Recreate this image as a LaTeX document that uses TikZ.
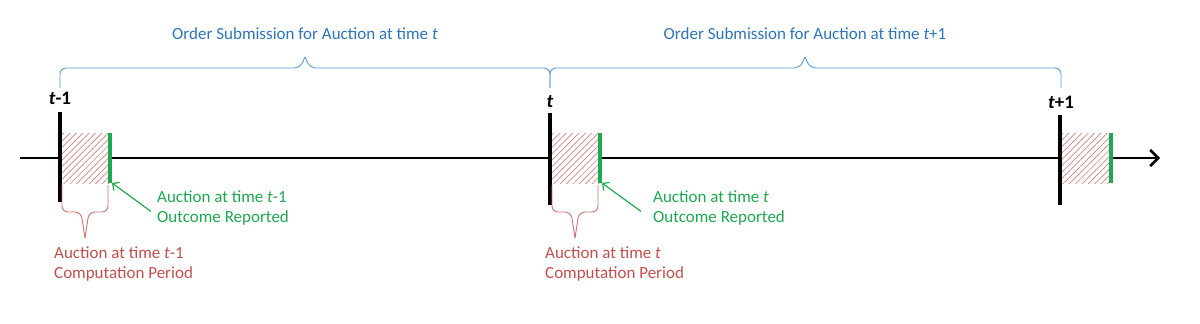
\documentclass[tikz,border=0pt]{standalone}
\usepackage{fontspec}
\setmainfont{Carlito}
\usepackage{tikz}
\usetikzlibrary{arrows.meta,positioning,calc,patterns.meta}
\definecolor{BlueText}{RGB}{46,117,182}
\definecolor{BlueBrace}{RGB}{91,155,213}
\definecolor{RedText}{RGB}{192,80,77}
\definecolor{RedHatch}{RGB}{210,130,130}
\definecolor{GreenMark}{RGB}{30,168,80}

\begin{document}
\begin{tikzpicture}[x=1pt,y=-1pt,
    every node/.style={font=\fontsize{17}{20}\selectfont, inner sep=0pt},
    ticklinestyle/.style={line width=3.5pt},
    hatchbox/.style={preaction={fill=white}, pattern={Lines[angle=45,distance=4.5pt,line width=0.7pt]}, pattern color=RedHatch},
    greenline/.style={GreenMark, line width=3.5pt},
    bluebrace/.style={BlueBrace, line width=0.9pt, rounded corners=6pt},
    redbrace/.style={RedText!80, line width=0.9pt, rounded corners=6pt},
    greenarrow/.style={GreenMark, line width=1.2pt, -{Straight Barb[length=5pt,width=10pt]}},
    ticklabel/.style={font=\fontsize{19}{22}\selectfont\bfseries},
    bluelabel/.style={BlueText},
    redlabel/.style={RedText, align=left, anchor=north west},
    greenlabel/.style={GreenMark, align=left, anchor=north west}]
  \useasboundingbox (0,0) rectangle (1200,324);
  % time points on the axis
  \coordinate (tA) at (60,158);
  \coordinate (tB) at (550,158);
  \coordinate (tC) at (1060,158);
  % axis
  \coordinate (axisstart) at (20,158);
  \coordinate (axisend) at (1160,158);
  \draw[line width=2.5pt, -{Straight Barb[length=8pt,width=16pt]}] (axisstart) -- (axisend);
  % computation periods
  \draw[hatchbox, draw=none] ($(tA)+(0,-25)$) rectangle ($(tA)+(50,25)$);
  \draw[hatchbox, draw=none] ($(tB)+(0,-25)$) rectangle ($(tB)+(50,25)$);
  \draw[hatchbox, draw=none] ($(tC)+(0,-25)$) rectangle ($(tC)+(51,25)$);
  \draw[greenline] ($(tA)+(50,-25)$) coordinate (gAtop) -- ($(tA)+(50,25)$) coordinate (gA);
  \draw[greenline] ($(tB)+(50,-25)$) coordinate (gBtop) -- ($(tB)+(50,25)$) coordinate (gB);
  \draw[greenline] ($(tC)+(51,-25)$) coordinate (gCtop) -- ($(tC)+(51,25)$) coordinate (gC);
  % ticks
  \draw[ticklinestyle] ($(tA)+(0,-46)$) -- ($(tA)+(0,44)$);
  \draw[ticklinestyle] ($(tB)+(0,-45)$) -- ($(tB)+(0,47)$);
  \draw[ticklinestyle] ($(tC)+(0,-43)$) -- ($(tC)+(0,47)$);
  \node[ticklabel] (lA) at (60,98) {\textit{t}-1};
  \node[ticklabel] (lB) at (550,102) {\textit{t}};
  \node[ticklabel] (lC) at (1061,102) {\textit{t}+1};
  % order submission braces
  \draw[bluebrace] (60,88) -- (60,68) -- (300,68) -- (305,57);
  \draw[bluebrace] (550,88) -- (550,68) -- (310,68) -- (305,57);
  \draw[bluebrace] (550,88) -- (550,68) -- (800,68) -- (805,57);
  \draw[bluebrace] (1061,88) -- (1061,68) -- (810,68) -- (805,57);
  \node[bluelabel] (subA) at (305,34) {Order Submission for Auction at time \textit{t}};
  \node[bluelabel] (subB) at (805,34) {Order Submission for Auction at time \textit{t}+1};
  % computation braces
  \draw[redbrace] (62,185) -- (62,212) -- (81,212) -- (85,238);
  \draw[redbrace] (108,185) -- (108,212) -- (89,212) -- (85,238);
  \draw[redbrace] (552,185) -- (552,212) -- (571,212) -- (575,238);
  \draw[redbrace] (598,185) -- (598,212) -- (579,212) -- (575,238);
  \node[redlabel] (compA) at (54,247) {Auction at time \textit{t}-1\\Computation Period};
  \node[redlabel] (compB) at (545,247) {Auction at time \textit{t}\\Computation Period};
  % outcome reported
  \node[greenlabel] (outA) at (157,191) {Auction at time \textit{t}-1\\Outcome Reported};
  \node[greenlabel] (outB) at (653,191) {Auction at time \textit{t}\\Outcome Reported};
  \draw[greenarrow] ([xshift=-6pt,yshift=-3pt]outA.west) -- ([xshift=2pt]gA);
  \draw[greenarrow] ([xshift=-12pt,yshift=-3pt]outB.west) -- ([xshift=2pt]gB);
\end{tikzpicture}
\end{document}
